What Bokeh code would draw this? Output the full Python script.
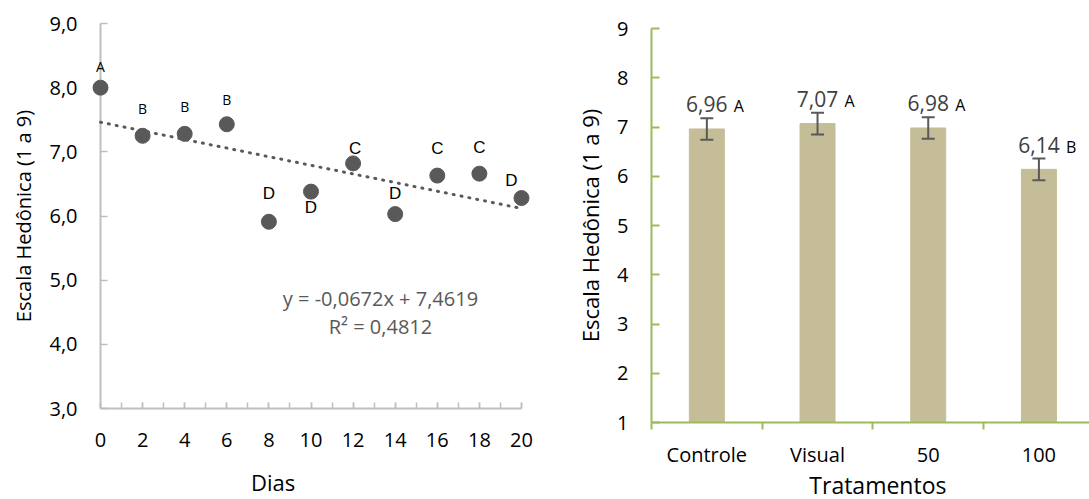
from bokeh.plotting import figure
from bokeh.models import (ColumnDataSource, Range1d, SingleIntervalTicker, FixedTicker,
                          Whisker, TeeHead)
from bokeh.layouts import row, column
from bokeh.embed import file_html
from bokeh.resources import INLINE
from bokeh.core.properties import value

# ---------------- data: left chart ----------------
dias = [0, 2, 4, 6, 8, 10, 12, 14, 16, 18, 20]
escala = [8.00, 7.25, 7.28, 7.43, 5.91, 6.38, 6.82, 6.03, 6.63, 6.66, 6.28]
letras_dias = ["A", "B", "B", "B", "D", "D", "C", "D", "C", "C", "D"]
slope = -0.0672
intercept = 7.4619
r2 = 0.4812
y_ticks_left = [3, 4, 5, 6, 7, 8, 9]
y_tick_labels_left = ["3,0", "4,0", "5,0", "6,0", "7,0", "8,0", "9,0"]
x_title_left = "Dias"
y_title = "Escala Hedônica (1 a 9)"

# ---------------- data: right chart ----------------
tratamentos = ["Controle", "Visual", "50", "100"]
medias = [6.96, 7.07, 6.98, 6.14]
erro = [0.22, 0.22, 0.22, 0.22]
letras_trat = ["A", "A", "A", "B"]
x_title_right = "Tratamentos"

FONT = "Open Sans"

# ---------------- left chart ----------------
p1 = figure(width=550, height=499, x_range=Range1d(0, 20), y_range=Range1d(3, 9),
            output_backend="svg", toolbar_location=None,
            min_border_left=100, min_border_right=29, min_border_top=23, min_border_bottom=91)
p1.outline_line_color = None
p1.grid.grid_line_color = None

# trend line computed from the regression coefficients
tx = [dias[0], dias[-1]]
ty = [slope * x + intercept for x in tx]
p1.line(tx, ty, line_color="#595959", line_width=3, line_dash="1 7", line_cap="round",
        level="overlay")

src1 = ColumnDataSource(dict(x=dias, y=escala))
p1.scatter("x", "y", source=src1, size=15, fill_color="#595959", line_color="#595959",
           level="overlay")

# letter label offsets (screen px) and style per letter
letter_dx = [0, 0, 0, 0, 0, 0, 2, 0, 0, 0, -10]
letter_dy = [-21, -27, -27, -25, -28, 16, -15, -21, -27, -26, -18]
letter_size = {"A": "14px", "B": "14px", "C": "17px", "D": "17px"}
letter_font = {"A": FONT, "B": FONT, "C": "Liberation Sans", "D": "Liberation Sans"}
lsrc = ColumnDataSource(dict(x=dias, y=escala, t=letras_dias, dx=letter_dx, dy=letter_dy,
                             fs=[letter_size[l] for l in letras_dias],
                             ff=[letter_font[l] for l in letras_dias]))
p1.text("x", "y", text="t", source=lsrc, x_offset="dx", y_offset="dy",
        text_align="center", text_baseline="middle", text_font="ff",
        text_font_size="fs", text_color="#000000", level="overlay")

eq_text = "y = {:.4f}x + {:.4f}\nR² = {:.4f}".format(slope, intercept, r2).replace(".", ",")
p1.text(x=[13.3], y=[4.5], text=[eq_text], text_align="center", text_baseline="middle",
        text_font=value(FONT), text_font_size="20px", text_color="#595959",
        text_line_height=1.05)

# x-axis title placed below the frame
p1.text(x=[8.2], y=[p1.y_range.start], y_offset=73, text=[x_title_left],
        text_align="center", text_baseline="middle", text_font=value(FONT),
        text_font_size="22px", text_color="#000000", level="overlay")

xa = p1.xaxis[0]
xa.ticker = SingleIntervalTicker(interval=2, num_minor_ticks=2)
xa.axis_line_color = "#BFBFBF"
xa.axis_line_width = 2
xa.major_tick_line_color = "#BFBFBF"
xa.minor_tick_line_color = "#BFBFBF"
xa.major_tick_line_width = 1.5
xa.minor_tick_line_width = 1.5
xa.major_tick_in = 6
xa.major_tick_out = 0
xa.minor_tick_in = 6
xa.minor_tick_out = 0
xa.major_label_standoff = 24
xa.major_label_text_font = FONT
xa.major_label_text_font_size = "20px"
xa.major_label_text_color = "#000000"

ya = p1.yaxis[0]
ya.ticker = FixedTicker(ticks=y_ticks_left)
ya.major_label_overrides = {t: l for t, l in zip(y_ticks_left, y_tick_labels_left)}
ya.axis_line_color = "#BFBFBF"
ya.axis_line_width = 2
ya.major_tick_line_color = "#BFBFBF"
ya.major_tick_line_width = 1.5
ya.major_tick_in = 7
ya.major_tick_out = 0
ya.minor_tick_in = 0
ya.minor_tick_out = 0
ya.major_label_standoff = 23
ya.major_label_text_font = FONT
ya.major_label_text_font_size = "20px"
ya.major_label_text_color = "#000000"
ya.axis_label = y_title
ya.axis_label_text_font = FONT
ya.axis_label_text_font_size = "20px"
ya.axis_label_text_font_style = "normal"
ya.axis_label_text_color = "#000000"
ya.axis_label_standoff = 9

# ---------------- right chart ----------------
n = len(tratamentos)
xpos = [i + 0.5 for i in range(n)]
p2 = figure(width=539, height=499, x_range=Range1d(0, 3.957), y_range=Range1d(1, 9),
            output_backend="svg", toolbar_location=None,
            min_border_left=101, min_border_right=0, min_border_top=28, min_border_bottom=77)
p2.outline_line_color = None
p2.grid.grid_line_color = None

src2 = ColumnDataSource(dict(x=xpos, top=medias,
                             upper=[m + e for m, e in zip(medias, erro)],
                             lower=[m - e for m, e in zip(medias, erro)],
                             lab=["{:.2f}".format(m).replace(".", ",") for m in medias],
                             let=letras_trat))
p2.vbar(x="x", top="top", bottom=1, width=0.316, source=src2,
        fill_color="#C4BD97", line_color="#C4BD97")
wh = Whisker(base="x", upper="upper", lower="lower", source=src2, level="overlay",
             line_color="#595959", line_width=2,
             upper_head=TeeHead(size=13, line_color="#595959", line_width=2),
             lower_head=TeeHead(size=13, line_color="#595959", line_width=2))
p2.add_layout(wh)
p2.text(x="x", y="upper", text="lab", source=src2, y_offset=-14,
        text_align="center", text_baseline="middle",
        text_font=value(FONT), text_font_size="21px", text_color="#404040")
p2.text(x="x", y="upper", text="let", source=src2, y_offset=-12, x_offset=27,
        text_align="left", text_baseline="middle",
        text_font=value(FONT), text_font_size="16px", text_color="#000000")

# x-axis title placed below the frame
p2.text(x=[n / 2], y=[p2.y_range.start], y_offset=62, x_offset=5, text=[x_title_right],
        text_align="center", text_baseline="middle", text_font=value(FONT),
        text_font_size="23px", text_color="#000000", level="overlay")

GREEN = "#9BBB59"
xb = p2.xaxis[0]
xb.ticker = FixedTicker(ticks=xpos, minor_ticks=list(range(n + 1)))
xb.major_label_overrides = {x: t for x, t in zip(xpos, tratamentos)}
xb.axis_line_color = GREEN
xb.axis_line_width = 2
xb.major_tick_line_color = None
xb.major_tick_in = 0
xb.major_tick_out = 0
xb.minor_tick_line_color = GREEN
xb.minor_tick_line_width = 2
xb.minor_tick_in = 0
xb.minor_tick_out = 7
xb.major_label_standoff = 11
xb.major_label_text_font = FONT
xb.major_label_text_font_size = "20px"
xb.major_label_text_color = "#000000"

yb = p2.yaxis[0]
yb.ticker = SingleIntervalTicker(interval=1, num_minor_ticks=0)
yb.axis_line_color = GREEN
yb.axis_line_width = 2
yb.major_tick_line_color = GREEN
yb.major_tick_line_width = 2
yb.major_tick_in = 8
yb.major_tick_out = 0
yb.minor_tick_in = 0
yb.minor_tick_out = 0
yb.major_label_standoff = 23
yb.major_label_text_font = FONT
yb.major_label_text_font_size = "20px"
yb.major_label_text_color = "#000000"
yb.axis_label = y_title
yb.axis_label_text_font = FONT
yb.axis_label_text_font_size = "22px"
yb.axis_label_text_font_style = "normal"
yb.axis_label_text_color = "#000000"
yb.axis_label_standoff = 9

layout = row(column(p1), column(p2))
open("out.html", "w").write(file_html(layout, INLINE))
